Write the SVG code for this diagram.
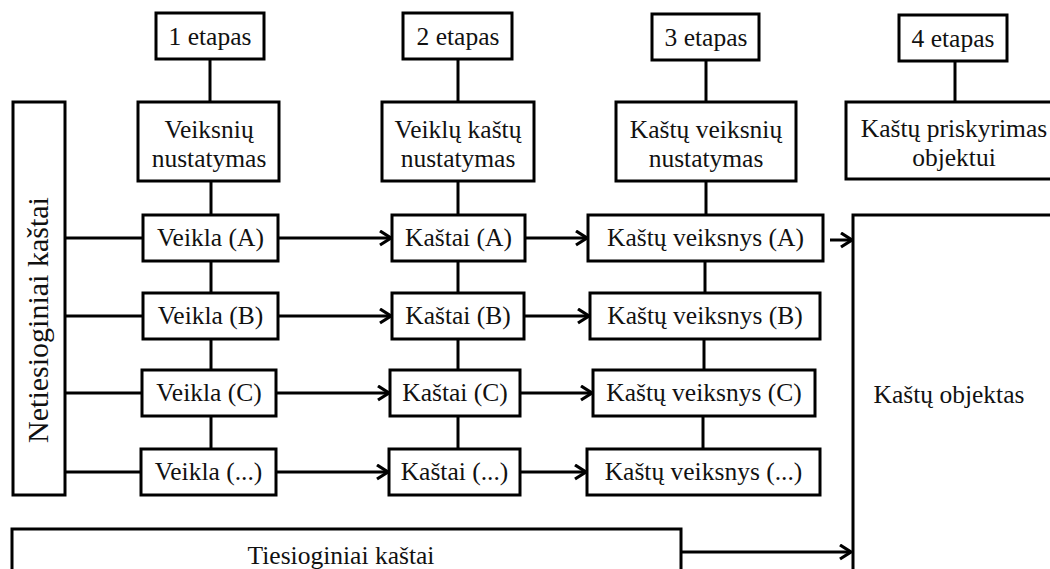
<svg xmlns="http://www.w3.org/2000/svg" width="1050" height="569" viewBox="0 0 1050 569">
<style>
rect{fill:#fff;stroke:#000;stroke-width:3}
text{font-family:'Liberation Serif','Times New Roman',serif;font-size:25.5px;fill:#111;text-anchor:middle}
.c line{stroke:#000;stroke-width:3}
.a{marker-end:url(#ah)}
</style>
<defs>
<marker id="ah" markerUnits="userSpaceOnUse" markerWidth="16" markerHeight="18" refX="13" refY="8" orient="auto">
<path d="M2,1 L13,8 L2,15" fill="none" stroke="#000" stroke-width="3.2" stroke-linejoin="miter"/>
</marker>
</defs>
<rect width="1050" height="569" style="fill:#fff;stroke:none"/>
<g id="connectors" class="c">
<line x1="210" y1="59" x2="210" y2="102"/>
<line x1="458" y1="59" x2="458" y2="102"/>
<line x1="706" y1="60" x2="706" y2="102"/>
<line x1="955" y1="61" x2="955" y2="102"/>
<line x1="211" y1="181" x2="211" y2="215"/>
<line x1="211" y1="261" x2="211" y2="293"/>
<line x1="211" y1="339" x2="211" y2="370"/>
<line x1="211" y1="416" x2="211" y2="449"/>
<line x1="458" y1="181" x2="458" y2="215"/>
<line x1="458" y1="261" x2="458" y2="293"/>
<line x1="458" y1="339" x2="458" y2="370"/>
<line x1="458" y1="416" x2="458" y2="449"/>
<line x1="706" y1="181" x2="706" y2="215"/>
<line x1="705" y1="261" x2="705" y2="293"/>
<line x1="704" y1="339" x2="704" y2="370"/>
<line x1="703" y1="416" x2="703" y2="449"/>
<line x1="65" y1="238" x2="143" y2="238"/>
<line x1="65" y1="316" x2="143" y2="316"/>
<line x1="65" y1="393" x2="142" y2="393"/>
<line x1="65" y1="472" x2="141" y2="472"/>
<line class="a" x1="278" y1="238" x2="391" y2="238"/>
<line class="a" x1="278" y1="316" x2="391" y2="316"/>
<line class="a" x1="276" y1="393" x2="389" y2="393"/>
<line class="a" x1="276" y1="472" x2="388" y2="472"/>
<line class="a" x1="525" y1="238" x2="587" y2="238"/>
<line class="a" x1="524" y1="316" x2="589" y2="316"/>
<line class="a" x1="520" y1="393" x2="592" y2="393"/>
<line class="a" x1="520" y1="472" x2="586" y2="472"/>
<line class="a" x1="830" y1="240" x2="852" y2="240"/>
<line class="a" x1="681" y1="552" x2="851" y2="552"/>
</g>
<g id="stage1"><rect x="156" y="13" width="108" height="46"/><text x="210" y="45">1 etapas</text></g>
<g id="stage2"><rect x="403" y="13" width="109" height="46"/><text x="458" y="45">2 etapas</text></g>
<g id="stage3"><rect x="652" y="14" width="107" height="46"/><text x="706" y="46">3 etapas</text></g>
<g id="stage4"><rect x="899" y="15" width="108" height="46"/><text x="953" y="47">4 etapas</text></g>
<g id="step1"><rect x="138" y="102" width="141" height="79"/><text x="209" y="138">Veiksnių</text><text x="209" y="167">nustatymas</text></g>
<g id="step2"><rect x="382" y="102" width="152" height="79"/><text x="458" y="138">Veiklų kaštų</text><text x="458" y="167">nustatymas</text></g>
<g id="step3"><rect x="616" y="102" width="180" height="79"/><text x="706" y="138">Kaštų veiksnių</text><text x="706" y="167">nustatymas</text></g>
<g id="step4"><rect x="846" y="102" width="218" height="77"/><text x="954" y="137">Kaštų priskyrimas</text><text x="954" y="166">objektui</text></g>
<g id="netiesioginiai"><rect x="13" y="102" width="52" height="393"/><text transform="translate(48,320) rotate(-90)" style="font-size:30px">Netiesioginiai kaštai</text></g>
<g id="veiklaA"><rect x="143" y="215" width="135" height="46"/><text x="210.5" y="246">Veikla (A)</text></g>
<g id="veiklaB"><rect x="143" y="293" width="135" height="46"/><text x="210.5" y="324">Veikla (B)</text></g>
<g id="veiklaC"><rect x="142" y="370" width="134" height="46"/><text x="209" y="401">Veikla (C)</text></g>
<g id="veiklaD"><rect x="141" y="449" width="135" height="46"/><text x="208.5" y="480">Veikla (...)</text></g>
<g id="kastaiA"><rect x="392" y="215" width="133" height="46"/><text x="458.5" y="246">Kaštai (A)</text></g>
<g id="kastaiB"><rect x="392" y="293" width="132" height="46"/><text x="458" y="324">Kaštai (B)</text></g>
<g id="kastaiC"><rect x="390" y="370" width="130" height="46"/><text x="455" y="401">Kaštai (C)</text></g>
<g id="kastaiD"><rect x="389" y="449" width="131" height="46"/><text x="454.5" y="480">Kaštai (...)</text></g>
<g id="veiksnysA"><rect x="588" y="215" width="235" height="46"/><text x="705.5" y="246">Kaštų veiksnys (A)</text></g>
<g id="veiksnysB"><rect x="590" y="293" width="230" height="46"/><text x="705" y="324">Kaštų veiksnys (B)</text></g>
<g id="veiksnysC"><rect x="593" y="370" width="222" height="46"/><text x="704" y="401">Kaštų veiksnys (C)</text></g>
<g id="veiksnysD"><rect x="587" y="449" width="233" height="46"/><text x="703.5" y="480">Kaštų veiksnys (...)</text></g>
<g id="objektas"><rect x="853" y="215" width="300" height="400"/><text x="949" y="403">Kaštų objektas</text></g>
<g id="tiesioginiai"><rect x="12" y="529" width="669" height="100"/><text x="341" y="564">Tiesioginiai kaštai</text></g>
</svg>
